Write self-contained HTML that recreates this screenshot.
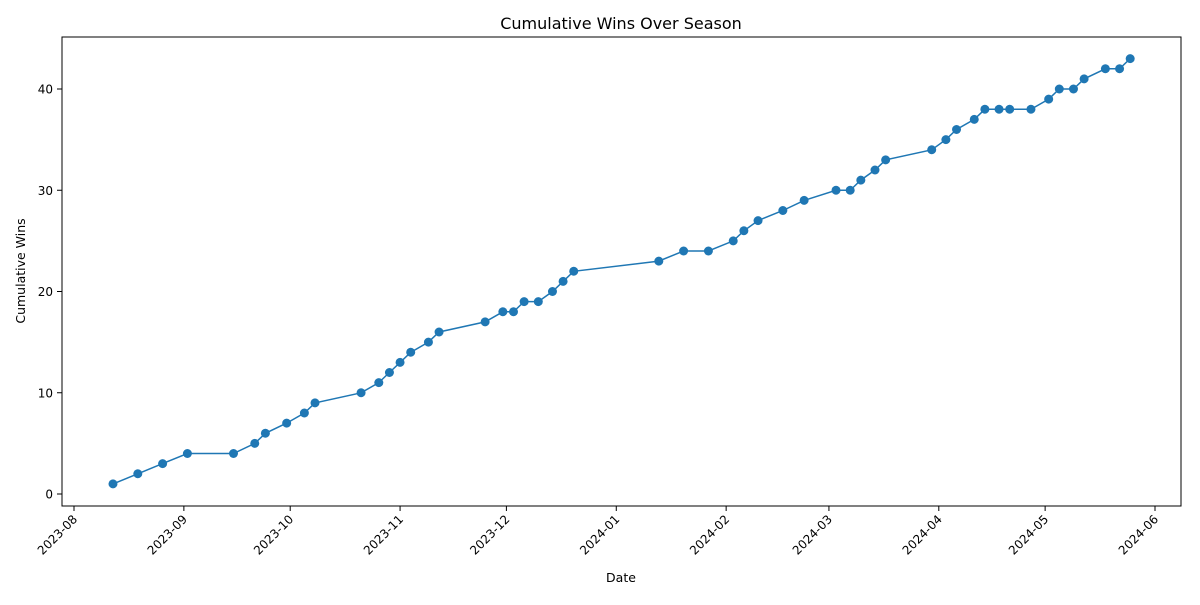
<!DOCTYPE html>
<html>
<head>
<meta charset="utf-8">
<style>
html,body{margin:0;padding:0;background:#fff;}
svg text{font-family:"DejaVu Sans","Liberation Sans",sans-serif;fill:#000;}
</style>
</head>
<body>
<svg id="chart" width="1200" height="600" viewBox="0 0 1200 600">
<rect x="0" y="0" width="1200" height="600" fill="#fff"/>
<text x="621" y="29" font-size="16" text-anchor="middle">Cumulative Wins Over Season</text>
<text x="621" y="582" font-size="12.5" text-anchor="middle">Date</text>
<text transform="translate(25,271) rotate(-90)" font-size="12.5" text-anchor="middle">Cumulative Wins</text>
<g id="grid"></g>
<g id="marks"></g>
<rect x="62" y="37" width="1119" height="469" fill="none" stroke="#000" stroke-width="1"/>
</svg>
<script>
const dates = ["2023-08-12","2023-08-19","2023-08-26","2023-09-02","2023-09-15","2023-09-21","2023-09-24","2023-09-30","2023-10-05","2023-10-08","2023-10-21","2023-10-26","2023-10-29","2023-11-01","2023-11-04","2023-11-09","2023-11-12","2023-11-25","2023-11-30","2023-12-03","2023-12-06","2023-12-10","2023-12-14","2023-12-17","2023-12-20","2024-01-13","2024-01-20","2024-01-27","2024-02-03","2024-02-06","2024-02-10","2024-02-17","2024-02-23","2024-03-03","2024-03-07","2024-03-10","2024-03-14","2024-03-17","2024-03-30","2024-04-03","2024-04-06","2024-04-11","2024-04-14","2024-04-18","2024-04-21","2024-04-27","2024-05-02","2024-05-05","2024-05-09","2024-05-12","2024-05-18","2024-05-22","2024-05-25"];
const wins = [1,2,3,4,4,5,6,7,8,9,10,11,12,13,14,15,16,17,18,18,19,19,20,21,22,23,24,24,25,26,27,28,29,30,30,31,32,33,34,35,36,37,38,38,38,38,39,40,40,41,42,42,43];
const xTicks = ["2023-08","2023-09","2023-10","2023-11","2023-12","2024-01","2024-02","2024-03","2024-04","2024-05","2024-06"];
const yTicks = [0,10,20,30,40];

const NS="http://www.w3.org/2000/svg";
const t0=Date.UTC(2023,7,1), t1=Date.UTC(2024,5,1);
function dayMs(s){const p=s.split("-").map(Number);return Date.UTC(p[0],p[1]-1,p[2]||1);}
function xs(s){return 74+(dayMs(s)-t0)/(t1-t0)*(1155-74);}
function ys(v){return 494-v*(494-89)/40;}
function mk(tag,attrs){const e=document.createElementNS(NS,tag);for(const k in attrs)e.setAttribute(k,attrs[k]);return e;}
const grid=document.getElementById("grid"), marks=document.getElementById("marks");

xTicks.forEach(t=>{
  const x=xs(t);
  const ln=mk("line",{x1:x,x2:x,y1:506,y2:511,stroke:"#000","stroke-width":1});
  
  
  grid.appendChild(ln);
  const tx=mk("text",{"font-size":"12","text-anchor":"end",transform:`translate(${x+4},${520}) rotate(-45)`});
  tx.textContent=t;
  
  
  grid.appendChild(tx);
});
yTicks.forEach(v=>{
  const y=ys(v);
  const ln=mk("line",{x1:57,x2:62,y1:y,y2:y,stroke:"#000","stroke-width":1});
  
  
  grid.appendChild(ln);
  const tx=mk("text",{x:53,y:y+4.5,"font-size":"12","text-anchor":"end"});
  tx.textContent=v;
  
  
  grid.appendChild(tx);
});
const pts=dates.map((d,i)=>xs(d).toFixed(1)+","+ys(wins[i]).toFixed(1)).join(" ");
const line=mk("polyline",{points:pts,fill:"none",stroke:"#1f77b4","stroke-width":1.5});


marks.appendChild(line);
dates.forEach((d,i)=>{
  const c=mk("circle",{cx:xs(d),cy:ys(wins[i]),r:4.5,fill:"#1f77b4"});
  
  
  marks.appendChild(c);
});
</script>
</body>
</html>
